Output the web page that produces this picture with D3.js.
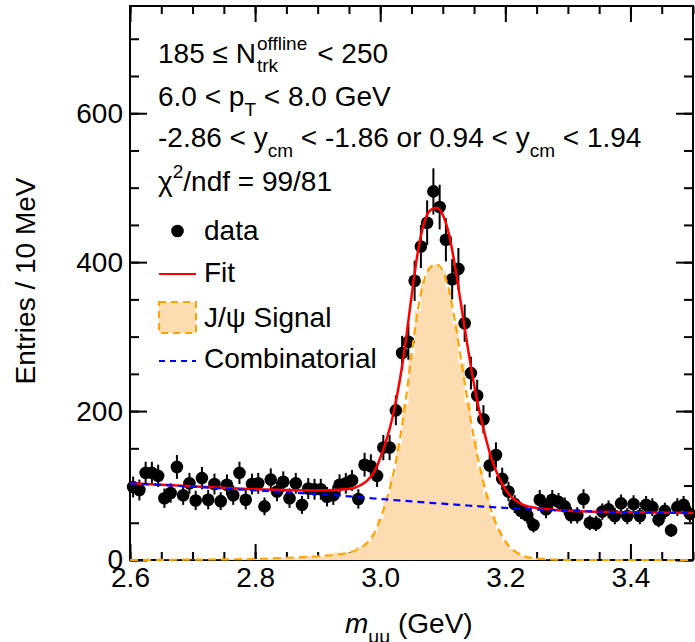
<!DOCTYPE html>
<html>
<head>
<meta charset="utf-8">
<script src="https://cdn.jsdelivr.net/npm/d3@7"></script>
<style>
  body { margin: 0; background: #fff; }
  svg text { font-family: "Liberation Sans", Arial, sans-serif; fill: #000; }
</style>
</head>
<body>
<svg id="chart" width="695" height="642"></svg>
<script>
// histogram: 10 MeV bins from 2.6 to 3.5 GeV
const massMin = 2.6, massMax = 3.5, binWidth = 0.01;
const entries = [98, 94, 117, 117, 113, 83, 90, 125, 87, 103,
  80, 110, 81, 102, 79, 101, 87, 117, 81, 102,
  103, 72, 108, 92, 105, 83, 103, 74, 96, 95,
  95, 85, 87, 101, 103, 107, 82, 128, 126, 113,
  151, 151, 201, 278, 293, 375, 421, 453, 495, 474,
  430, 377, 391, 318, 251, 221, 189, 127, 141, 109,
  92, 75, 66, 60, 47, 81, 68, 81, 78, 72,
  60, 60, 82, 50, 49, 65, 68, 59, 76, 59,
  75, 59, 74, 71, 54, 66, 40, 71, 74, 62];
const errors = [14, 14, 15, 15, 15, 13, 13, 16, 13, 14,
  13, 15, 13, 14, 12, 14, 13, 15, 13, 14,
  14, 12, 15, 13, 14, 13, 14, 12, 14, 14,
  14, 13, 13, 14, 14, 14, 13, 16, 16, 15,
  17, 17, 20, 23, 24, 27, 29, 30, 31, 30,
  29, 27, 28, 25, 22, 21, 19, 16, 17, 15,
  13, 12, 11, 11, 10, 13, 12, 13, 12, 12,
  11, 11, 13, 10, 10, 11, 12, 11, 12, 11,
  12, 11, 12, 12, 10, 11, 9, 12, 12, 11];

// fit components
const fitMass = [2.60, 2.70, 2.80, 2.85, 2.90, 2.95, 2.97, 2.98, 2.99,
  3.00, 3.01, 3.02, 3.03, 3.04, 3.05, 3.06, 3.07, 3.08, 3.09, 3.10, 3.11,
  3.12, 3.13, 3.14, 3.15, 3.16, 3.17, 3.18, 3.19, 3.20, 3.21, 3.22, 3.23,
  3.25, 3.28, 3.30, 3.40, 3.50];
const fitSignal = [0, 0.5, 1.5, 3, 5, 10, 17, 24, 35,
  55, 80, 112, 155, 210, 275, 335, 375, 393, 397, 388, 362,
  318, 265, 212, 163, 122, 88, 60, 40, 25, 15, 9, 5,
  2, 0.5, 0, 0, 0];
const fitBkg = [103, 98.5, 93.5, 91, 88.5, 85.5, 84, 83.3, 82.6,
  82, 81.3, 80.6, 80, 79.3, 78.7, 78, 77.4, 76.8, 76.2, 75.6, 75,
  74.4, 73.8, 73.2, 72.6, 72, 71.5, 71, 70.5, 70, 69.5, 69, 68.6,
  67.8, 66.8, 66.2, 64, 63];

const xTicks = [2.6, 2.8, 3.0, 3.2, 3.4];
const xMinorTicks = d3.range(2.6, 3.5001, 0.05);
const yTicks = [0, 200, 400, 600];
const yMinorTicks = d3.range(0, 745, 50);
const yMax = 744;

const margin = { top: 6, right: 2, bottom: 82, left: 130 };
const width = 695, height = 642;

const svg = d3.select("#chart");
const x = d3.scaleLinear().domain([massMin, massMax]).range([margin.left, width - margin.right]);
const y = d3.scaleLinear().domain([0, yMax]).range([height - margin.bottom, margin.top]);

const bins = entries.map((v, i) => ({ m: massMin + binWidth * (i + 0.5), v: v, e: errors[i] }));
const fit = fitMass.map((m, i) => ({ m: m, s: fitSignal[i], b: fitBkg[i], t: fitSignal[i] + fitBkg[i] }));

// frame
svg.append("rect")
  .attr("x", x(massMin)).attr("y", y(yMax))
  .attr("width", x(massMax) - x(massMin)).attr("height", y(0) - y(yMax))
  .attr("fill", "none").attr("stroke", "#000").attr("stroke-width", 2);

// axes, ticks pointing inside
function styleAxis(sel) {
  sel.select(".domain").remove();
  sel.selectAll(".tick line").attr("stroke", "#000").attr("stroke-width", 2);
  sel.selectAll(".tick text").attr("font-size", 28).attr("fill", "#000")
    .style("font-family", "'Liberation Sans', Arial, sans-serif");
}
const yb = y(0), yt = y(yMax), xl = x(massMin), xr = x(massMax);

svg.append("g").attr("transform", `translate(0,${yb})`)
  .call(d3.axisBottom(x).tickValues(xMinorTicks).tickSizeInner(-8).tickSizeOuter(0).tickFormat(""))
  .call(styleAxis);
svg.append("g").attr("transform", `translate(0,${yb})`)
  .call(d3.axisBottom(x).tickValues(xTicks).tickSizeInner(-16).tickSizeOuter(0).tickPadding(7).tickFormat(d3.format(".1f")))
  .call(styleAxis);
svg.append("g").attr("transform", `translate(0,${yt})`)
  .call(d3.axisTop(x).tickValues(xMinorTicks).tickSizeInner(-8).tickSizeOuter(0).tickFormat(""))
  .call(styleAxis);
svg.append("g").attr("transform", `translate(0,${yt})`)
  .call(d3.axisTop(x).tickValues(xTicks).tickSizeInner(-16).tickSizeOuter(0).tickFormat(""))
  .call(styleAxis);

svg.append("g").attr("transform", `translate(${xl},0)`)
  .call(d3.axisLeft(y).tickValues(yMinorTicks).tickSizeInner(-9).tickSizeOuter(0).tickFormat(""))
  .call(styleAxis);
svg.append("g").attr("transform", `translate(${xl},0)`)
  .call(d3.axisLeft(y).tickValues(yTicks).tickSizeInner(-17).tickSizeOuter(0).tickPadding(7).tickFormat(d3.format("d")))
  .call(styleAxis);
svg.append("g").attr("transform", `translate(${xr},0)`)
  .call(d3.axisRight(y).tickValues(yMinorTicks).tickSizeInner(-9).tickSizeOuter(0).tickFormat(""))
  .call(styleAxis);
svg.append("g").attr("transform", `translate(${xr},0)`)
  .call(d3.axisRight(y).tickValues(yTicks).tickSizeInner(-17).tickSizeOuter(0).tickFormat(""))
  .call(styleAxis);

// J/psi signal fill
svg.append("path").datum(fit)
  .attr("fill", "#fddcb2")
  .attr("d", d3.area().x(d => x(d.m)).y0(y(0)).y1(d => y(d.s)).curve(d3.curveStep));

// data points
const pts = svg.append("g");
pts.selectAll("line").data(bins).join("line")
  .attr("x1", d => x(d.m)).attr("x2", d => x(d.m))
  .attr("y1", d => y(d.v - d.e)).attr("y2", d => y(d.v + d.e))
  .attr("stroke", "#000").attr("stroke-width", 2);
pts.selectAll("circle").data(bins).join("circle")
  .attr("cx", d => x(d.m)).attr("cy", d => y(d.v)).attr("r", 6.3).attr("fill", "#000");

// curves
const lineOf = key => d3.line().x(d => x(d.m)).y(d => y(d[key])).curve(d3.curveMonotoneX);
svg.append("path").datum(fit).attr("fill", "none")
  .attr("stroke", "#ffa500").attr("stroke-width", 2.2).attr("stroke-dasharray", "8,5")
  .attr("d", lineOf("s"));
svg.append("path").datum(fit).attr("fill", "none")
  .attr("stroke", "#ff0000").attr("stroke-width", 2.5)
  .attr("d", lineOf("t"));
svg.append("path").datum(fit).attr("fill", "none")
  .attr("stroke", "#0000ff").attr("stroke-width", 2.2).attr("stroke-dasharray", "7,5")
  .attr("d", lineOf("b"));

// text helper with sub/superscripts
function rich(px, py, parts, size = 28) {
  const t = svg.append("text").attr("x", px).attr("y", py).attr("font-size", size)
    .attr("xml:space", "preserve");
  let shift = 0;
  parts.forEach(([s, mode, style]) => {
    const target = mode === "sub" ? 10 : mode === "sup" ? -13 : 0;
    const ts = t.append("tspan").attr("dy", target - shift).attr("font-size", mode ? 19 : size).text(s);
    if (style) ts.attr("font-style", style);
    shift = target;
  });
  return t;
}

const tx = 158;
// line 1: 185 <= N_trk^offline < 250
const l1 = rich(tx, 63, [["185 \u2264 N"]]);
const nEnd = tx + l1.node().getComputedTextLength();
const sup = svg.append("text").attr("x", nEnd + 1).attr("y", 50).attr("font-size", 19).text("offline");
svg.append("text").attr("x", nEnd + 1).attr("y", 72).attr("font-size", 19).text("trk");
rich(nEnd + 11 + sup.node().getComputedTextLength(), 63, [["< 250"]]);

rich(tx, 106, [["6.0 < p"], ["T", "sub"], [" < 8.0 GeV"]]);
rich(tx, 147, [["-2.86 < y"], ["cm", "sub"], [" < -1.86 or 0.94 < y"], ["cm", "sub"], [" < 1.94"]]);
rich(tx, 191, [["\u03c7"], ["2", "sup"], ["/ndf = 99/81"]]);

// legend
const lx0 = 159, lx1 = 196, ltx = 204;
svg.append("circle").attr("cx", (lx0 + lx1) / 2).attr("cy", 231).attr("r", 6.3).attr("fill", "#000");
rich(ltx, 240, [["data"]]);
svg.append("line").attr("x1", lx0).attr("x2", lx1).attr("y1", 274).attr("y2", 274)
  .attr("stroke", "#ff0000").attr("stroke-width", 2);
rich(ltx, 282, [["Fit"]]);
svg.append("rect").attr("x", lx0).attr("y", 302).attr("width", lx1 - lx0).attr("height", 31)
  .attr("fill", "#fddcb2").attr("stroke", "#ffa500").attr("stroke-width", 2).attr("stroke-dasharray", "7,5");
rich(ltx, 327, [["J/\u03c8 Signal"]]);
svg.append("line").attr("x1", lx0).attr("x2", lx1).attr("y1", 361).attr("y2", 361)
  .attr("stroke", "#0000ff").attr("stroke-width", 2).attr("stroke-dasharray", "6,5");
rich(ltx, 368, [["Combinatorial"]]);

// axis titles
svg.append("text").attr("transform", "translate(35,281) rotate(-90)")
  .attr("text-anchor", "middle").attr("font-size", 28).text("Entries / 10 MeV");
rich(345, 633, [["m", null, "italic"], ["\u03bc\u03bc", "sub"], [" (GeV)"]]);
</script>
</body>
</html>
